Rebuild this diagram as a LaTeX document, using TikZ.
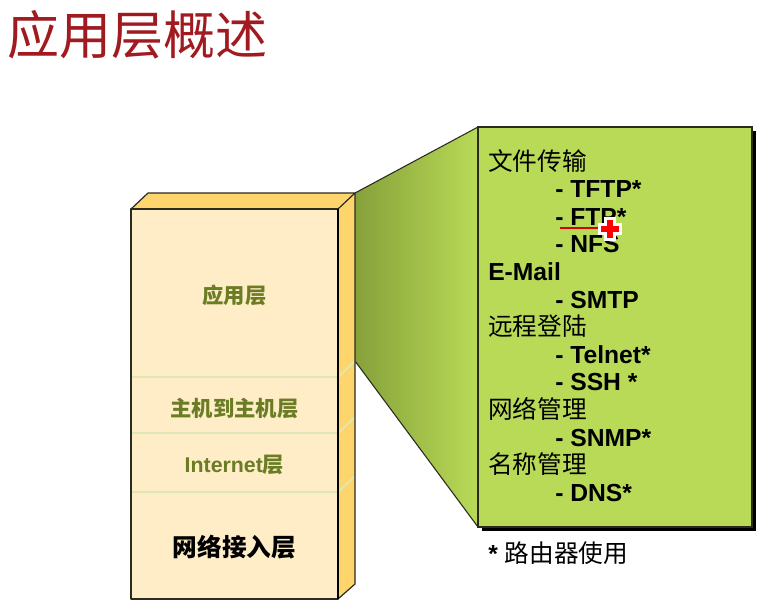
\documentclass[tikz,border=0pt]{standalone}
\usepackage{fontspec}
\setmainfont{Liberation Sans}
\newfontfamily\cjk{Noto Sans CJK SC}
\newcommand{\zh}[1]{{\cjk #1}}
\definecolor{titlered}{HTML}{A11A1F}
\definecolor{creamface}{HTML}{FEEDC7}
\definecolor{goldface}{HTML}{FED56C}
\definecolor{olivetext}{HTML}{6A7C24}
\definecolor{divider}{HTML}{DDE8B2}
\definecolor{panelgreen}{HTML}{B9DA57}
\definecolor{funneldark}{HTML}{86A13A}
\definecolor{edge}{HTML}{2A2A1E}
\begin{document}
\begin{tikzpicture}[x=0.75pt,y=-0.75pt,
  layerlabel/.style={font=\bfseries\fontsize{16}{18}\selectfont, text=olivetext, inner sep=0pt},
  protohead/.style={anchor=base west, inner sep=0pt, font=\fontsize{18.5}{20}\selectfont},
  protoitem/.style={anchor=base west, inner sep=0pt, font=\bfseries\fontsize{18.5}{20}\selectfont},
  stackedge/.style={draw=edge, line width=0.9pt, line join=round},
  divline/.style={draw=divider, line width=1.3pt}]
\useasboundingbox (0,0) rectangle (782,615);

% heading
\node[anchor=west, inner sep=0pt, text=titlered, font=\cjk\fontsize{39}{41}\selectfont] (title) at (7,35) {应用层概述};

% funnel joining the stack to the protocol panel
\shade[left color=funneldark, right color=panelgreen]
  (355,193) -- (478,127) -- (478,527) -- (355,361) -- cycle;
\draw[draw=edge, line width=0.8pt] (355,193) -- (478,127);
\draw[draw=edge, line width=0.8pt] (355,361) -- (478,527);

% layer stack: front, top and side faces
\fill[creamface] (131,209) rectangle (338,599);
\fill[goldface] (131,209) -- (148,193) -- (355,193) -- (338,209) -- cycle;
\fill[goldface] (338,209) -- (355,193) -- (355,584) -- (338,599) -- cycle;

% layer boundaries
\foreach \yy in {377,433,492}{
  \draw[divline] (131,\yy) -- (338,\yy);
  \draw[divline] (338,\yy) -- (355,\yy-16);
}

\draw[stackedge] (131,209) -- (148,193) -- (355,193) -- (338,209);
\draw[stackedge] (355,193) -- (355,584) -- (338,599);
\draw[stackedge] (131,209) rectangle (338,599);
\draw[draw=black, line width=1.6pt] (338,209) -- (338,599);

\node[layerlabel] (app) at (234.5,295) {\zh{应用层}};
\node[layerlabel] (host) at (234.5,408) {\zh{主机到主机层}};
\node[layerlabel] (inet) at (234.5,465) {Internet\zh{层}};
\node[layerlabel, text=black, font=\bfseries\fontsize{18.5}{20}\selectfont] (link) at (234.5,547) {\zh{网络接入层}};

% protocol panel with drop shadow
\fill[black] (482,131) rectangle (756,531);
\fill[panelgreen] (478,127) rectangle (752,527);
\draw[draw=edge, line width=0.9pt] (478,127) rectangle (752,527);

\node[protohead] (ft)   at (488,170.0) {\zh{文件传输}};
\node[protoitem] (tftp) at (555,197.6) {- TFTP*};
\node[protoitem] (ftp)  at (555,225.2) {- FTP*};
\node[protoitem] (nfs)  at (555,252.8) {- NFS};
\node[protoitem] (mail) at (488,280.4) {E-Mail};
\node[protoitem] (smtp) at (555,308.0) {- SMTP};
\node[protohead] (rl)   at (488,335.6) {\zh{远程登陆}};
\node[protoitem] (tel)  at (555,363.2) {- Telnet*};
\node[protoitem] (ssh)  at (555,390.8) {- SSH *};
\node[protohead] (nm)   at (488,418.4) {\zh{网络管理}};
\node[protoitem] (snmp) at (555,446.0) {- SNMP*};
\node[protohead] (dn)   at (488,473.6) {\zh{名称管理}};
\node[protoitem] (dns)  at (555,501.2) {- DNS*};

\node[protoitem] (note) at (488,562) {* \zh{\mdseries 路由器使用}};

% pointer mark over FTP
\draw[red!85!black, line width=1.5pt] (560,228) -- (600,228);
\fill[white] (604,217) rectangle (616,241);
\fill[white] (598,223) rectangle (622,235);
\fill[red] (607,220) rectangle (613,238);
\fill[red] (601,226) rectangle (619,232);
\end{tikzpicture}
\end{document}
